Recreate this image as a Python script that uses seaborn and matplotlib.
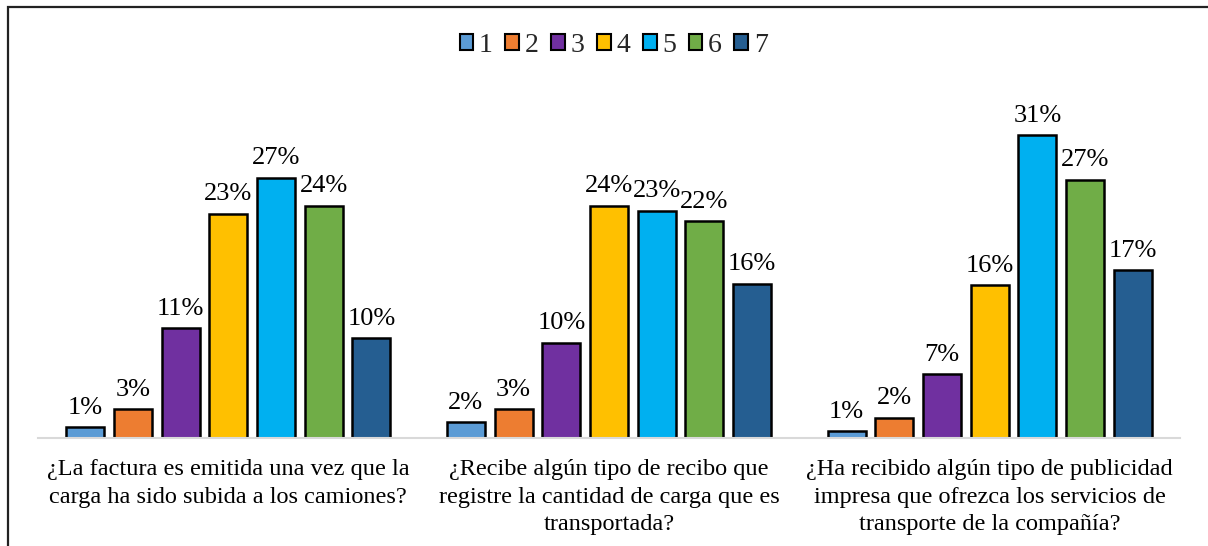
import pandas as pd
import matplotlib.pyplot as plt
import matplotlib.patches as mpatches
import seaborn as sns

# preguntas (eje x)
preguntas = [
    "¿La factura es emitida una vez que la\ncarga ha sido subida a los camiones?",
    "¿Recibe algún tipo de recibo que\nregistre la cantidad de carga que es\ntransportada?",
    "¿Ha recibido algún tipo de publicidad\nimpresa que ofrezca los servicios de\ntransporte de la compañía?",
]
escala = ["1", "2", "3", "4", "5", "6", "7"]

# porcentajes por pregunta
p_factura = [1.1, 3.0, 11.3, 23.1, 26.8, 23.9, 10.3]
p_recibo = [1.6, 3.0, 9.8, 23.9, 23.4, 22.3, 15.9]
p_publicidad = [0.7, 2.1, 6.6, 15.7, 31.2, 26.6, 17.3]

colores = ["#5B9BD5", "#ED7D31", "#7030A0", "#FFC000", "#00B0F0", "#70AD47", "#255E91"]

rows = []
for preg, vals in zip(preguntas, [p_factura, p_recibo, p_publicidad]):
    for esc, v in zip(escala, vals):
        rows.append({"pregunta": preg, "escala": esc, "pct": v})
df = pd.DataFrame(rows)

sns.set_theme(style="white")
plt.rcParams["font.family"] = ["Liberation Serif", "DejaVu Serif"]

W, H = 1208, 546
fig = plt.figure(figsize=(W / 100, H / 100), dpi=100)
ax = fig.add_axes([38 / W, (H - 438) / H, (1180 - 38) / W, 340 / H])

sns.barplot(data=df, x="pregunta", y="pct", hue="escala", order=preguntas,
            hue_order=escala, palette=colores, width=0.877, gap=0.2,
            edgecolor="black", linewidth=1.8, saturation=1, legend=False, ax=ax)

for c in ax.containers:
    ax.bar_label(c, fmt=lambda v: f"{v:.0f}%", padding=6, fontsize=19, color="black")

ax.set_ylim(0, 35)
ax.set_xlim(-0.5, 2.5)
ax.set_xlabel("")
ax.set_ylabel("")
ax.set_yticks([])
ax.tick_params(axis="x", length=0, pad=15, labelsize=17.5, colors="black")
for lbl in ax.get_xticklabels():
    lbl.set_linespacing(1.42)
for s in ["top", "left", "right"]:
    ax.spines[s].set_visible(False)
ax.spines["bottom"].set_color("#D9D9D9")
ax.spines["bottom"].set_linewidth(1.5)

handles = [mpatches.Patch(facecolor=c, edgecolor="black", linewidth=1.5, label=e)
           for c, e in zip(colores, escala)]
fig.legend(handles=handles, loc="center", bbox_to_anchor=(0.508, 1 - 45 / H),
           ncol=7, frameon=False, fontsize=20, handlelength=0.5, handleheight=0.5,
           handletextpad=0.2, columnspacing=0.45, borderpad=0)

# marco del gráfico
marco = mpatches.Rectangle((8 / W, -0.2), 1.2, 1.2 - 7 / H, transform=fig.transFigure,
                           fill=False, edgecolor="#222222", linewidth=1.6, clip_on=False)
fig.add_artist(marco)

fig.savefig("out.png", dpi=100)
